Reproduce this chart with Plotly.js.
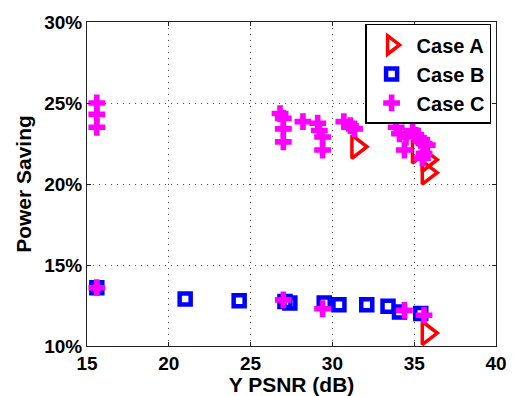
<!DOCTYPE html>
<html>
<head>
<meta charset="utf-8">
<script src="https://cdn.plot.ly/plotly-3.0.1.min.js"></script>
<style>html,body{margin:0;padding:0;background:#fff;}#chart{width:514px;height:396px;}</style>
</head>
<body>
<div id="chart"></div>
<script>
var seriesNames = ["Case A", "Case B", "Case C"];

var caseA_x = [31.5, 35.2, 35.8, 35.8, 35.8];
var caseA_y = [22.3, 22.0, 21.5, 20.7, 10.8];

var caseB_x = [15.6, 21.0, 24.3, 27.1, 27.4, 29.5, 30.4, 32.1, 33.4, 34.1, 35.4];
var caseB_y = [13.6, 12.9, 12.8, 12.75, 12.65, 12.65, 12.55, 12.55, 12.45, 12.1, 12.0];

var caseC_x = [15.6, 15.6, 15.6, 15.6,
               26.8, 27.0, 27.0, 27.0, 27.0,
               28.2, 29.1, 29.2, 29.4, 29.4, 29.4,
               30.7, 31.1, 31.35,
               33.9, 34.1, 34.4, 34.5, 34.9, 35.1, 35.4, 35.6, 35.8, 35.6, 35.5,
               34.4, 35.6];
var caseC_y = [25.0, 24.3, 23.5, 13.6,
               24.35, 24.05, 23.4, 22.6, 12.85,
               23.85, 23.75, 23.3, 22.9, 22.1, 12.3,
               23.85, 23.6, 23.4,
               23.5, 23.1, 22.1, 22.9, 23.3, 23.0, 22.7, 22.5, 22.4, 21.9, 21.6,
               12.2, 11.9];

var xTicks = [15, 20, 25, 30, 35, 40];
var yTicks = [10, 15, 20, 25, 30];

var traces = [
  {x: caseA_x, y: caseA_y, name: seriesNames[0], type: 'scatter', mode: 'markers',
   marker: {symbol: 'triangle-right-open', size: 20, color: '#ff0000', line: {width: 3.5, color: '#ff0000'}}},
  {x: caseB_x, y: caseB_y, name: seriesNames[1], type: 'scatter', mode: 'markers',
   marker: {symbol: 'square-open', size: 11, color: '#0000ff', line: {width: 4.5, color: '#0000ff'}}},
  {x: caseC_x, y: caseC_y, name: seriesNames[2], type: 'scatter', mode: 'markers',
   marker: {symbol: 'cross', size: 14, color: '#ff00ff', line: {width: 0}}}
];

var fam = 'Liberation Sans, Arial, sans-serif';
var axisFont = {family: fam, size: 19, color: '#000', weight: 'bold'};
var titleFont = {family: fam, size: 21, color: '#000', weight: 'bold'};

var layout = {
  width: 514, height: 396,
  margin: {l: 87, r: 18, t: 22, b: 50},
  paper_bgcolor: '#fff', plot_bgcolor: '#fff',
  showlegend: true,
  legend: {x: 0.988, xanchor: 'right', y: 0.994, yanchor: 'top',
           bordercolor: '#000', borderwidth: 1.5, bgcolor: '#fff',
           font: {family: fam, size: 20, color: '#000', weight: 'bold'},
           itemwidth: 40, tracegroupgap: 0},
  xaxis: {range: [15, 40], tickvals: xTicks, ticktext: xTicks.map(String),
          showgrid: true, gridcolor: '#555', griddash: '1px,5px', gridwidth: 1,
          zeroline: false, showline: true, linecolor: '#222', linewidth: 1, mirror: 'allticks',
          ticks: 'inside', ticklen: 4, tickcolor: '#222',
          tickfont: axisFont,
          title: {text: 'Y PSNR (dB)', font: titleFont, standoff: 2}},
  yaxis: {range: [10, 30], tickvals: yTicks, ticktext: yTicks.map(function(v){return v + '%';}),
          showgrid: true, gridcolor: '#555', griddash: '1px,5px', gridwidth: 1,
          zeroline: false, showline: true, linecolor: '#222', linewidth: 1, mirror: 'allticks',
          ticks: 'inside', ticklen: 4, tickcolor: '#222',
          tickfont: axisFont,
          title: {text: 'Power Saving', font: titleFont, standoff: 6}}
};

Plotly.newPlot('chart', traces, layout, {staticPlot: true, displayModeBar: false});
</script>
</body>
</html>
